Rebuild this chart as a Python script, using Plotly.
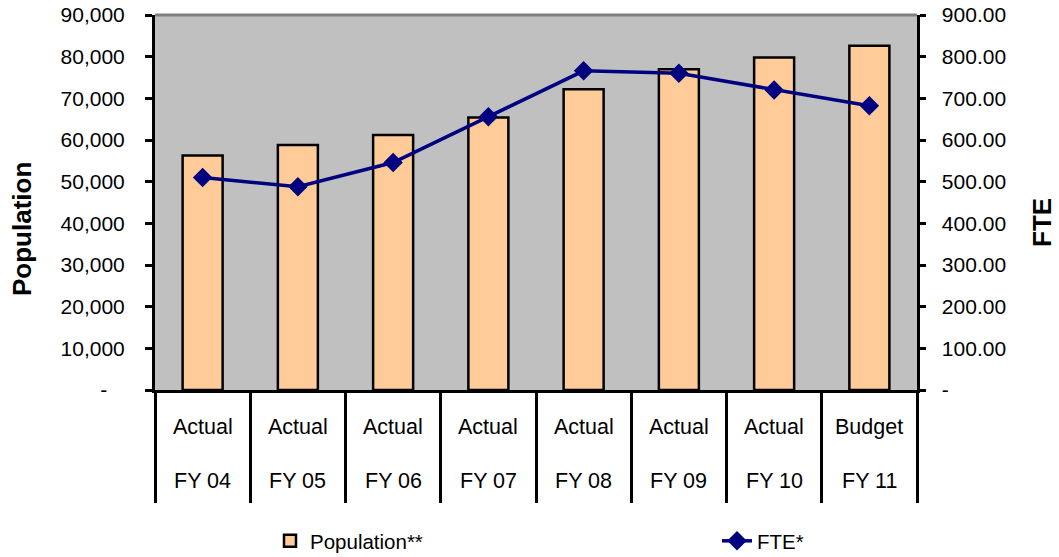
import plotly.graph_objects as go

# ---- data ----
years = ["FY 04", "FY 05", "FY 06", "FY 07", "FY 08", "FY 09", "FY 10", "FY 11"]
periods = ["Actual", "Actual", "Actual", "Actual", "Actual", "Actual", "Actual", "Budget"]
population = [56300, 58800, 61200, 65400, 72200, 77000, 79800, 82600]
fte = [510, 488, 546, 656, 766, 760, 720, 682]

pop_ticks = [0, 10000, 20000, 30000, 40000, 50000, 60000, 70000, 80000, 90000]
pop_tick_text = ["-\u00a0\u00a0\u00a0", "10,000", "20,000", "30,000", "40,000", "50,000",
                 "60,000", "70,000", "80,000", "90,000"]
fte_ticks = [0, 100, 200, 300, 400, 500, 600, 700, 800, 900]
fte_tick_text = ["-", "100.00", "200.00", "300.00", "400.00", "500.00",
                 "600.00", "700.00", "800.00", "900.00"]

FONT = "Liberation Sans, Arial, sans-serif"
PAD = "\u00a0\u00a0"

# ---- layout geometry (pixels) ----
W, H = 1059, 557
L, R, T, B = 155, 142, 15, 167
plot_h = H - T - B
plot_w = W - L - R


def py(pix):
    return (H - B - pix) / plot_h


def px(pix):
    return (pix - L) / plot_w


fig = go.Figure()

fig.add_trace(go.Bar(
    x=years, y=population, name="Population**",
    marker=dict(color="#FFCC99", line=dict(color="black", width=2.5)),
    width=0.42, yaxis="y", legend="legend",
))

fig.add_trace(go.Scatter(
    x=years, y=fte, name="FTE*", mode="lines+markers",
    line=dict(color="#000080", width=3.5),
    marker=dict(symbol="diamond", size=15, color="#000080"),
    yaxis="y2", legend="legend2",
))

annotations = []
for yr, per in zip(years, periods):
    annotations.append(dict(x=yr, xref="x", y=py(427), yref="paper", text=per,
                            showarrow=False, yanchor="middle",
                            font=dict(size=21.5, family=FONT, color="black")))
    annotations.append(dict(x=yr, xref="x", y=py(481), yref="paper", text=yr,
                            showarrow=False, yanchor="middle",
                            font=dict(size=21.5, family=FONT, color="black")))

annotations.append(dict(x=px(22), xref="paper", y=py(229), yref="paper",
                        text="<b>Population</b>", textangle=-90, showarrow=False,
                        xanchor="center", yanchor="middle",
                        font=dict(size=26, family=FONT, color="black")))
annotations.append(dict(x=px(1042), xref="paper", y=py(223), yref="paper",
                        text="<b>FTE</b>", textangle=-90, showarrow=False,
                        xanchor="center", yanchor="middle",
                        font=dict(size=26, family=FONT, color="black")))

legend_common = dict(orientation="h", yref="container", y=(H - 541) / H,
                     yanchor="middle", xref="container", xanchor="left",
                     font=dict(size=20.5, family=FONT, color="black"),
                     bgcolor="rgba(0,0,0,0)", borderwidth=0)

fig.update_layout(
    width=W, height=H,
    margin=dict(l=L, r=R, t=T, b=B, pad=0, autoexpand=False),
    paper_bgcolor="white",
    plot_bgcolor="#C0C0C0",
    font=dict(family=FONT, size=21, color="black"),
    showlegend=True,
    legend=dict(x=270 / W, **legend_common),
    legend2=dict(x=717 / W, **legend_common),
    xaxis=dict(type="category", range=[-0.5, len(years) - 0.5],
               showline=True, linecolor="black", linewidth=3,
               ticks="outside", tickson="boundaries", ticklen=110,
               tickwidth=2.5, tickcolor="black",
               showticklabels=False, showgrid=False, zeroline=False),
    yaxis=dict(range=[0, 90000], tickvals=pop_ticks, ticktext=pop_tick_text,
               showline=True, linecolor="black", linewidth=3,
               ticks="outside", ticklen=7, tickwidth=3, tickcolor="black",
               ticklabelstandoff=16,
               showgrid=False, zeroline=False,
               tickfont=dict(size=21, family=FONT, color="black")),
    yaxis2=dict(range=[0, 900], tickvals=fte_ticks,
                ticktext=[PAD + t for t in fte_tick_text],
                overlaying="y", side="right",
                showline=True, linecolor="black", linewidth=3,
                ticks="outside", ticklen=6, tickwidth=3, tickcolor="black",
                showgrid=False, zeroline=False,
                tickfont=dict(size=21, family=FONT, color="black")),
    annotations=annotations,
    shapes=[dict(type="line", xref="paper", yref="paper", x0=0, x1=1, y0=1, y1=1,
                 line=dict(color="#808080", width=3))],
)

fig.write_html("out.html",
               config={"displayModeBar": False},
               post_script="document.body.style.margin='0';"
                           "document.body.style.overflow='hidden';")
